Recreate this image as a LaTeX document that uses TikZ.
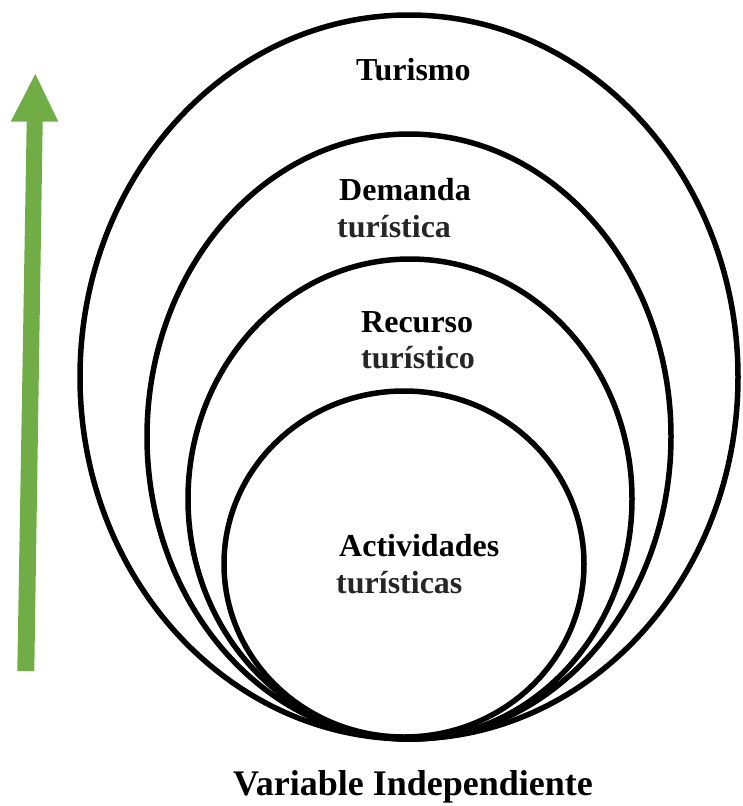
\documentclass[tikz,border=0pt]{standalone}
\usepackage{fontspec}
\setmainfont{Liberation Serif}
\definecolor{arrowgreen}{HTML}{70AD47}
\definecolor{darktext}{HTML}{262626}
\begin{document}
\begin{tikzpicture}[x=1pt,y=-1pt,
  ring/.style={draw=black,line width=5.5pt},
  lbl/.style={anchor=base west,inner sep=0pt,font=\fontsize{32}{38}\selectfont\bfseries},
  lblgray/.style={lbl,text=darktext},
  title/.style={anchor=base,inner sep=0pt,font=\fontsize{36}{43}\selectfont\bfseries}]
\useasboundingbox (0,0) rectangle (742,806);
% arrow
\fill[arrowgreen] (17.3,671) -- (26.7,121.7) -- (10.7,121.7) -- (35.3,74) -- (58.3,121.7) -- (42.7,121.7) -- (34.3,671) -- cycle;
% ellipses
\draw[ring] (409,377) ellipse [x radius=329pt, y radius=362pt];
\draw[ring] (409,436.5) ellipse [x radius=262pt, y radius=302.5pt];
\draw[ring] (410,499) ellipse [x radius=222pt, y radius=240pt];
\draw[ring] (404,564) ellipse [x radius=180pt, y radius=173pt];
% labels
\node[lbl] (tur) at (356,80) {Turismo};
\node[lbl] (dem1) at (339,200) {Demanda};
\node[lblgray] (dem2) at (337,237) {turística};
\node[lbl] (rec1) at (361,332) {Recurso};
\node[lblgray] (rec2) at (361,368) {turístico};
\node[lbl] (act1) at (339,556) {Actividades};
\node[lblgray] (act2) at (336,593) {turísticas};
\node[title] (var) at (413,795) {Variable Independiente};
\end{tikzpicture}
\end{document}
